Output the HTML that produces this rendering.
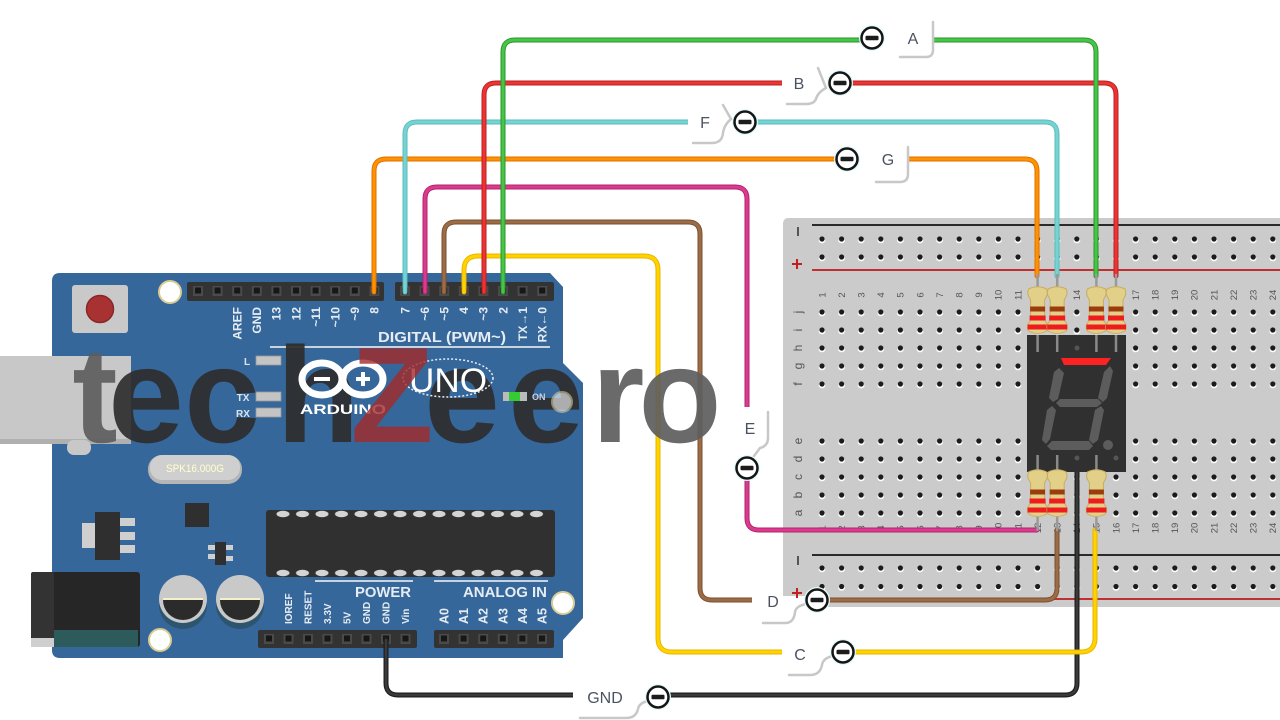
<!DOCTYPE html>
<html><head><meta charset="utf-8"><style>html,body{margin:0;padding:0;background:#fff}svg{display:block}</style></head>
<body>
<svg width="1280" height="720" viewBox="0 0 1280 720" xmlns="http://www.w3.org/2000/svg" font-family="'Liberation Sans', sans-serif">
<defs>
 <pattern id="ph1" x="812.2" y="230" width="19.6" height="18" patternUnits="userSpaceOnUse"><ellipse cx="9.8" cy="10.6" rx="3.3" ry="2.7" fill="#fff"/><circle cx="9.8" cy="9" r="2.6" fill="#1b1b1b"/></pattern>
 <pattern id="ph2" x="812.2" y="303" width="19.6" height="18" patternUnits="userSpaceOnUse"><ellipse cx="9.8" cy="10.6" rx="3.3" ry="2.7" fill="#fff"/><circle cx="9.8" cy="9" r="2.6" fill="#1b1b1b"/></pattern>
 <pattern id="ph3" x="812.2" y="432" width="19.6" height="18" patternUnits="userSpaceOnUse"><ellipse cx="9.8" cy="10.6" rx="3.3" ry="2.7" fill="#fff"/><circle cx="9.8" cy="9" r="2.6" fill="#1b1b1b"/></pattern>
 <pattern id="ph4" x="812.2" y="559" width="19.6" height="18.5" patternUnits="userSpaceOnUse"><ellipse cx="9.8" cy="10.6" rx="3.3" ry="2.7" fill="#fff"/><circle cx="9.8" cy="9" r="2.6" fill="#1b1b1b"/></pattern>
 <pattern id="bump" x="273.25" y="0" width="19.5" height="720" patternUnits="userSpaceOnUse"><ellipse cx="9.75" cy="514" rx="6.5" ry="3.2" fill="#d4d4d4"/><ellipse cx="9.75" cy="573" rx="6.5" ry="3.2" fill="#d4d4d4"/></pattern>
 <g id="pin"><rect x="-5" y="-5" width="10" height="10" fill="#4a4a4a"/><rect x="-3" y="-3.5" width="6" height="6" fill="#171717"/></g>
 <g id="res">
  <path d="M-9,2 Q-11,7 -8,11 L-7,13 V33 L-9,36 Q-11.5,40 -9,44 Q0,49 9,44 Q11.5,40 9,36 L7,33 V13 L8,11 Q11,7 9,2 Q0,-2.5 -9,2 Z" fill="#e2cf88" stroke="#c8ad60" stroke-width="1"/>
  <rect x="-7.5" y="19.5" width="15" height="5" fill="#9a3c0c"/>
  <rect x="-8" y="28.5" width="16" height="5" fill="#ee1c1c"/>
  <rect x="-10" y="37.5" width="20" height="5" fill="#ee1c1c"/>
 </g>
 <g id="mi"><circle r="13" fill="#e2fafa"/><circle r="10.5" fill="#fff" stroke="#151515" stroke-width="2.5"/><rect x="-6.5" y="-2.3" width="13" height="4.6" rx="1" fill="#1c1c1c"/></g>
</defs>

<rect width="1280" height="720" fill="#fff"/>

<!-- Breadboard -->
<rect x="783" y="218" width="520" height="389" rx="5" fill="#cbcbcb"/>
<rect x="812" y="224" width="470" height="2" fill="#2a2a2a"/>
<rect x="812" y="269" width="470" height="2" fill="#c03030"/>
<rect x="812" y="554" width="470" height="2" fill="#2a2a2a"/>
<rect x="812" y="598" width="470" height="2" fill="#c03030"/>
<rect x="812" y="230" width="470" height="36" fill="url(#ph1)"/>
<rect x="812" y="303" width="470" height="90" fill="url(#ph2)"/>
<rect x="812" y="432" width="470" height="90" fill="url(#ph3)"/>
<rect x="812" y="559" width="470" height="37" fill="url(#ph4)"/>
<rect x="797" y="227" width="2" height="9" fill="#555"/>
<rect x="792" y="263" width="10" height="2" fill="#c02020"/><rect x="796" y="259" width="2" height="10" fill="#c02020"/>
<rect x="797" y="556" width="2" height="9" fill="#555"/>
<rect x="792" y="592" width="10" height="2" fill="#c02020"/><rect x="796" y="588" width="2" height="10" fill="#c02020"/>

<g font-size="9.5" fill="#555" text-anchor="middle">
<text transform="translate(825.3,295) rotate(-90)">1</text><text transform="translate(844.9,295) rotate(-90)">2</text><text transform="translate(864.5,295) rotate(-90)">3</text><text transform="translate(884.1,295) rotate(-90)">4</text><text transform="translate(903.7,295) rotate(-90)">5</text><text transform="translate(923.3,295) rotate(-90)">6</text><text transform="translate(942.9,295) rotate(-90)">7</text><text transform="translate(962.5,295) rotate(-90)">8</text><text transform="translate(982.1,295) rotate(-90)">9</text><text transform="translate(1001.7,295) rotate(-90)">10</text><text transform="translate(1021.3,295) rotate(-90)">11</text><text transform="translate(1040.9,295) rotate(-90)">12</text><text transform="translate(1060.5,295) rotate(-90)">13</text><text transform="translate(1080.1,295) rotate(-90)">14</text><text transform="translate(1099.7,295) rotate(-90)">15</text><text transform="translate(1119.3,295) rotate(-90)">16</text><text transform="translate(1138.9,295) rotate(-90)">17</text><text transform="translate(1158.5,295) rotate(-90)">18</text><text transform="translate(1178.1,295) rotate(-90)">19</text><text transform="translate(1197.7,295) rotate(-90)">20</text><text transform="translate(1217.3,295) rotate(-90)">21</text><text transform="translate(1236.9,295) rotate(-90)">22</text><text transform="translate(1256.5,295) rotate(-90)">23</text><text transform="translate(1276.1,295) rotate(-90)">24</text>
<text transform="translate(825.3,528) rotate(-90)">1</text><text transform="translate(844.9,528) rotate(-90)">2</text><text transform="translate(864.5,528) rotate(-90)">3</text><text transform="translate(884.1,528) rotate(-90)">4</text><text transform="translate(903.7,528) rotate(-90)">5</text><text transform="translate(923.3,528) rotate(-90)">6</text><text transform="translate(942.9,528) rotate(-90)">7</text><text transform="translate(962.5,528) rotate(-90)">8</text><text transform="translate(982.1,528) rotate(-90)">9</text><text transform="translate(1001.7,528) rotate(-90)">10</text><text transform="translate(1021.3,528) rotate(-90)">11</text><text transform="translate(1040.9,528) rotate(-90)">12</text><text transform="translate(1060.5,528) rotate(-90)">13</text><text transform="translate(1080.1,528) rotate(-90)">14</text><text transform="translate(1099.7,528) rotate(-90)">15</text><text transform="translate(1119.3,528) rotate(-90)">16</text><text transform="translate(1138.9,528) rotate(-90)">17</text><text transform="translate(1158.5,528) rotate(-90)">18</text><text transform="translate(1178.1,528) rotate(-90)">19</text><text transform="translate(1197.7,528) rotate(-90)">20</text><text transform="translate(1217.3,528) rotate(-90)">21</text><text transform="translate(1236.9,528) rotate(-90)">22</text><text transform="translate(1256.5,528) rotate(-90)">23</text><text transform="translate(1276.1,528) rotate(-90)">24</text>
</g>
<g font-size="12" fill="#555" text-anchor="middle">
<text transform="translate(802,312) rotate(-90)">j</text><text transform="translate(802,330) rotate(-90)">i</text><text transform="translate(802,348) rotate(-90)">h</text><text transform="translate(802,366) rotate(-90)">g</text><text transform="translate(802,384) rotate(-90)">f</text>
<text transform="translate(802,441) rotate(-90)">e</text><text transform="translate(802,459) rotate(-90)">d</text><text transform="translate(802,477) rotate(-90)">c</text><text transform="translate(802,495) rotate(-90)">b</text><text transform="translate(802,513) rotate(-90)">a</text>
</g>

<!-- Arduino board -->
<path d="M60,273 H550 L563,287 V363 L583,383 V618 L563,640 V658 H60 Q52,658 52,650 V281 Q52,273 60,273 Z" fill="#35679b"/>
<rect x="0" y="356" width="131" height="88" fill="#c8c8c8"/>
<rect x="0" y="439" width="131" height="5" fill="#b0b0b0"/>
<rect x="67" y="440" width="24" height="15" rx="7" fill="#c8c8c8"/>
<rect x="72" y="285" width="56" height="48" rx="3" fill="#c9c9c9"/>
<circle cx="100" cy="309" r="13.5" fill="#a83232" stroke="#8a2626" stroke-width="1.5"/>
<circle cx="170" cy="292" r="11" fill="#fff" stroke="#d9cc93" stroke-width="2"/>
<circle cx="160" cy="640" r="11" fill="#fff" stroke="#d9cc93" stroke-width="2"/>
<circle cx="563" cy="603" r="11" fill="#fff" stroke="#d9cc93" stroke-width="2"/>
<rect x="187" y="282" width="197" height="19" rx="2" fill="#333"/>
<rect x="395" y="282" width="159" height="19" rx="2" fill="#333"/>
<use href="#pin" x="198" y="291"/><use href="#pin" x="217.6" y="291"/><use href="#pin" x="237.2" y="291"/><use href="#pin" x="256.8" y="291"/><use href="#pin" x="276.4" y="291"/><use href="#pin" x="296" y="291"/><use href="#pin" x="315.6" y="291"/><use href="#pin" x="335.2" y="291"/><use href="#pin" x="354.8" y="291"/><use href="#pin" x="374.4" y="291"/>
<use href="#pin" x="405" y="291"/><use href="#pin" x="424.6" y="291"/><use href="#pin" x="444.2" y="291"/><use href="#pin" x="463.8" y="291"/><use href="#pin" x="483.4" y="291"/><use href="#pin" x="503" y="291"/><use href="#pin" x="522.6" y="291"/><use href="#pin" x="542.2" y="291"/>
<g font-size="12" font-weight="bold" fill="#e6ecf2" text-anchor="end">
<text transform="translate(241.5,307) rotate(-90)">AREF</text>
<text transform="translate(261.1,307) rotate(-90)">GND</text>
<text transform="translate(280.7,307) rotate(-90)">13</text>
<text transform="translate(300.3,307) rotate(-90)">12</text>
<text transform="translate(319.9,307) rotate(-90)">~11</text>
<text transform="translate(339.5,307) rotate(-90)">~10</text>
<text transform="translate(359.1,307) rotate(-90)">~9</text>
<text transform="translate(378.7,307) rotate(-90)">8</text>
<text transform="translate(409.3,307) rotate(-90)">7</text>
<text transform="translate(428.9,307) rotate(-90)">~6</text>
<text transform="translate(448.5,307) rotate(-90)">~5</text>
<text transform="translate(468.1,307) rotate(-90)">4</text>
<text transform="translate(487.7,307) rotate(-90)">~3</text>
<text transform="translate(507.3,307) rotate(-90)">2</text>
<text transform="translate(526.9,307) rotate(-90)">TX→1</text>
<text transform="translate(546.5,307) rotate(-90)">RX←0</text>
</g>
<text x="378" y="342" font-size="15" font-weight="bold" fill="#e6ecf2" textLength="128" lengthAdjust="spacingAndGlyphs">DIGITAL (PWM~)</text>
<rect x="270" y="346" width="280" height="2" fill="#c9d3de"/>
<!-- crystal -->
<rect x="148" y="455" width="94" height="29" rx="14" fill="#b5b5b5"/>
<rect x="150" y="455" width="90" height="25" rx="12" fill="#cfcfcf"/>
<text x="195" y="472" font-size="11" fill="#ffffcc" text-anchor="middle" textLength="58" lengthAdjust="spacingAndGlyphs">SPK16.000G</text>
<!-- regulator etc -->
<rect x="82" y="523" width="14" height="25" fill="#cfcfcf"/>
<rect x="95" y="512" width="25" height="48" fill="#2f2f2f"/>
<rect x="120" y="518" width="15" height="8" fill="#cfcfcf"/><rect x="120" y="532" width="15" height="8" fill="#cfcfcf"/><rect x="120" y="545" width="15" height="8" fill="#cfcfcf"/>
<rect x="185" y="503" width="24" height="24" fill="#2f2f2f"/>
<rect x="208" y="545" width="8" height="5" fill="#cfcfcf"/><rect x="208" y="554" width="8" height="5" fill="#cfcfcf"/>
<rect x="225" y="545" width="8" height="5" fill="#cfcfcf"/><rect x="225" y="556" width="8" height="5" fill="#cfcfcf"/>
<rect x="215" y="542" width="11" height="23" fill="#2f2f2f"/>
<rect x="266" y="510" width="289" height="67" rx="3" fill="#303030"/>
<rect x="273" y="510" width="273" height="67" fill="url(#bump)"/>
<rect x="31" y="572" width="109" height="75" rx="3" fill="#262626"/>
<rect x="54" y="630" width="84" height="17" fill="#2d5a5a"/>
<rect x="31" y="638" width="23" height="9" fill="#cfcfcf"/>
<rect x="31" y="572" width="23" height="66" rx="2" fill="#333"/>
<circle cx="183" cy="605" r="24" fill="#2d5570"/>
<circle cx="183" cy="599" r="24" fill="#c9c9c9"/>
<path d="M163,600 A20,20 0 0 0 203,600 Z" fill="#2b2b2b"/>
<rect x="163" y="598" width="40" height="2" fill="#f4f0c8"/>
<circle cx="240" cy="605" r="24" fill="#2d5570"/>
<circle cx="240" cy="599" r="24" fill="#c9c9c9"/>
<path d="M220,600 A20,20 0 0 0 260,600 Z" fill="#2b2b2b"/>
<rect x="220" y="598" width="40" height="2" fill="#f4f0c8"/>
<rect x="315" y="580" width="98" height="2" fill="#c9d3de"/>
<rect x="434" y="580" width="114" height="2" fill="#c9d3de"/>
<text x="355" y="597" font-size="14.5" font-weight="bold" fill="#e6ecf2" textLength="56" lengthAdjust="spacingAndGlyphs">POWER</text>
<text x="463" y="597" font-size="14.5" font-weight="bold" fill="#e6ecf2" textLength="84" lengthAdjust="spacingAndGlyphs">ANALOG IN</text>
<g font-size="10" font-weight="bold" fill="#e6ecf2">
<text transform="translate(292.1,624) rotate(-90)">IOREF</text>
<text transform="translate(311.6,624) rotate(-90)">RESET</text>
<text transform="translate(331.1,624) rotate(-90)">3.3V</text>
<text transform="translate(350.6,624) rotate(-90)">5V</text>
<text transform="translate(370.1,624) rotate(-90)">GND</text>
<text transform="translate(389.6,624) rotate(-90)">GND</text>
<text transform="translate(409.1,624) rotate(-90)">Vin</text>
</g>
<g font-size="12.5" font-weight="bold" fill="#e6ecf2">
<text transform="translate(448.5,624) rotate(-90)">A0</text>
<text transform="translate(468.1,624) rotate(-90)">A1</text>
<text transform="translate(487.7,624) rotate(-90)">A2</text>
<text transform="translate(507.3,624) rotate(-90)">A3</text>
<text transform="translate(526.9,624) rotate(-90)">A4</text>
<text transform="translate(546.5,624) rotate(-90)">A5</text>
</g>
<rect x="258" y="630" width="159" height="18" rx="2" fill="#333"/>
<rect x="434" y="630" width="120" height="18" rx="2" fill="#333"/>
<use href="#pin" x="269" y="639"/><use href="#pin" x="288.5" y="639"/><use href="#pin" x="308" y="639"/><use href="#pin" x="327.5" y="639"/><use href="#pin" x="347" y="639"/><use href="#pin" x="366.5" y="639"/><use href="#pin" x="386" y="639"/><use href="#pin" x="405.5" y="639"/>
<use href="#pin" x="444" y="639"/><use href="#pin" x="463.6" y="639"/><use href="#pin" x="483.2" y="639"/><use href="#pin" x="502.8" y="639"/><use href="#pin" x="522.4" y="639"/><use href="#pin" x="542" y="639"/>

<!-- Wires -->
<g fill="none" stroke-linecap="round" stroke-linejoin="round">
<path d="M386,640 V683 Q386,695 398,695 H1065 Q1077,695 1077,683 V470" stroke="#1e1e1e" stroke-width="5"/>
<path d="M386,640 V683 Q386,695 398,695 H1065 Q1077,695 1077,683 V470" stroke="#3a3a3a" stroke-width="2.5"/>
<path d="M464,292 V270 Q464,256 478,256 H644 Q658,256 658,270 V638 Q658,652 672,652 H1081 Q1095,652 1095,638 V530" stroke="#e8b400" stroke-width="5"/>
<path d="M464,292 V270 Q464,256 478,256 H644 Q658,256 658,270 V638 Q658,652 672,652 H1081 Q1095,652 1095,638 V530" stroke="#ffd200" stroke-width="3"/>
<path d="M444,292 V234 Q444,222 456,222 H688 Q700,222 700,234 V588 Q700,600 712,600 H1045 Q1057,600 1057,588 V530" stroke="#7a5030" stroke-width="5"/>
<path d="M444,292 V234 Q444,222 456,222 H688 Q700,222 700,234 V588 Q700,600 712,600 H1045 Q1057,600 1057,588 V530" stroke="#9c6c46" stroke-width="3"/>
<path d="M425,292 V199 Q425,187 437,187 H735 Q747,187 747,199 V518 Q747,530 759,530 H1037" stroke="#b0246a" stroke-width="5"/>
<path d="M425,292 V199 Q425,187 437,187 H735 Q747,187 747,199 V518 Q747,530 759,530 H1037" stroke="#dc3a8e" stroke-width="3"/>
<path d="M374,292 V171 Q374,159 386,159 H1025 Q1037,159 1037,171 V276" stroke="#e07000" stroke-width="5"/>
<path d="M374,292 V171 Q374,159 386,159 H1025 Q1037,159 1037,171 V276" stroke="#ff9200" stroke-width="3"/>
<path d="M405,292 V134 Q405,122 417,122 H1045 Q1057,122 1057,134 V276" stroke="#5cbaba" stroke-width="5"/>
<path d="M405,292 V134 Q405,122 417,122 H1045 Q1057,122 1057,134 V276" stroke="#74d4d4" stroke-width="3"/>
<path d="M484,292 V95 Q484,83 496,83 H1104 Q1116,83 1116,95 V276" stroke="#b82020" stroke-width="5"/>
<path d="M484,292 V95 Q484,83 496,83 H1104 Q1116,83 1116,95 V276" stroke="#ec3434" stroke-width="3"/>
<path d="M503,292 V52 Q503,40 515,40 H1084 Q1096,40 1096,52 V276" stroke="#2a962a" stroke-width="5"/>
<path d="M503,292 V52 Q503,40 515,40 H1084 Q1096,40 1096,52 V276" stroke="#48c448" stroke-width="3"/>
</g>

<!-- Watermark (dark letters) -->
<g font-weight="bold" font-size="136" text-anchor="middle" opacity="0.92">
<text x="95" y="442" fill="#5e5e5e">t</text>
<text x="146" y="442" fill="#2e2e2e">e</text>
<text x="222" y="442" fill="#2e2e2e">c</text>
<text x="318" y="442" fill="#2e2e2e">h</text>
<text x="462" y="442" fill="#2e2e2e">e</text>
<text x="546" y="442" fill="#2e2e2e">e</text>
<text x="618" y="442" fill="#5e5e5e">r</text>
<text x="680" y="442" fill="#5e5e5e">o</text>
</g>

<!-- board details above watermark -->
<rect x="256" y="356" width="25" height="9" fill="#c4c4c4" stroke="#999" stroke-width="0.8"/>
<rect x="256" y="392" width="25" height="9" fill="#c4c4c4" stroke="#999" stroke-width="0.8"/>
<rect x="256" y="408" width="25" height="9" fill="#c4c4c4" stroke="#999" stroke-width="0.8"/>
<g font-size="10" font-weight="bold" fill="#dde3ea" text-anchor="middle">
<text x="247" y="365">L</text><text x="243" y="401">TX</text><text x="243" y="417">RX</text>
</g>
<ellipse cx="322" cy="379" rx="20" ry="16" fill="none" stroke="#fff" stroke-width="7"/>
<ellipse cx="363" cy="379" rx="20" ry="16" fill="none" stroke="#fff" stroke-width="7"/>
<rect x="314" y="377" width="16" height="4" fill="#fff"/>
<rect x="356" y="377" width="14" height="4" fill="#fff"/><rect x="361" y="372" width="4" height="14" fill="#fff"/>
<text x="300" y="414" font-size="14" font-weight="bold" fill="#fff" textLength="86" lengthAdjust="spacingAndGlyphs">ARDUINO</text>
<ellipse cx="448" cy="378" rx="45" ry="19" fill="none" stroke="#e8eef5" stroke-width="1.5" stroke-dasharray="2 2"/>
<text x="448" y="392" font-size="34" fill="#fff" text-anchor="middle" textLength="78" lengthAdjust="spacingAndGlyphs">UNO</text>
<rect x="503" y="392" width="24" height="9" fill="#bbb"/><rect x="509" y="392" width="11" height="9" fill="#33cc33"/>
<text x="532" y="400" font-size="9" font-weight="bold" fill="#ccd3dc">ON</text>
<circle cx="562" cy="402" r="10" fill="#fff" stroke="#d9cc93" stroke-width="2" opacity="0.6"/>

<!-- red Z -->
<text x="392" y="442" font-weight="bold" font-size="136" text-anchor="middle" fill="#a42a2a" opacity="0.8">Z</text>

<!-- 7-seg display -->
<rect x="1027" y="335" width="99" height="137" fill="#303030"/>
<g stroke="#8a8a8a" stroke-width="2.5">
<line x1="1037.6" y1="335" x2="1037.6" y2="352"/><line x1="1057.2" y1="335" x2="1057.2" y2="352"/><line x1="1096.4" y1="335" x2="1096.4" y2="352"/><line x1="1116" y1="335" x2="1116" y2="352"/>
<line x1="1037.6" y1="455" x2="1037.6" y2="472"/><line x1="1057.2" y1="455" x2="1057.2" y2="472"/><line x1="1096.4" y1="455" x2="1096.4" y2="472"/>
</g>
<circle cx="1077" cy="348" r="2.5" fill="#555"/><circle cx="1077" cy="458" r="2.5" fill="#555"/><circle cx="1116" cy="458" r="2.5" fill="#555"/>
<polygon points="1061,358 1111,358 1106,365 1064,365" fill="#ff2222"/>
<g fill="#5c5c5c">
<polygon points="1059,368 1064,373 1058,399 1053,402 1049,398 1054,372"/>
<polygon points="1110,366 1113,371 1107,398 1103,402 1098,398 1104,372"/>
<polygon points="1056,403 1060,399 1098,399 1102,403 1097,407 1060,407"/>
<polygon points="1052,406 1056,410 1050,439 1046,444 1042,440 1047,410"/>
<polygon points="1101,406 1104,410 1098,440 1093,444 1089,440 1095,410"/>
<polygon points="1047,446 1052,441 1089,441 1093,446 1089,450 1051,450"/>
<circle cx="1108" cy="445" r="5"/>
</g>
<g stroke="#9a9a9a" stroke-width="2.5">
<line x1="1037.6" y1="274" x2="1037.6" y2="290"/><line x1="1057.2" y1="274" x2="1057.2" y2="290"/><line x1="1096.4" y1="274" x2="1096.4" y2="290"/><line x1="1116" y1="274" x2="1116" y2="290"/>
<line x1="1037.6" y1="512" x2="1037.6" y2="531"/><line x1="1057.2" y1="512" x2="1057.2" y2="531"/><line x1="1096.4" y1="512" x2="1096.4" y2="531"/>
</g>
<use href="#res" x="1037.6" y="287"/><use href="#res" x="1057.2" y="287"/><use href="#res" x="1096.4" y="287"/><use href="#res" x="1116" y="287"/>
<use href="#res" x="1037.6" y="470"/><use href="#res" x="1057.2" y="470"/><use href="#res" x="1096.4" y="470"/>

<!-- Labels -->
<g fill="#fff">
<rect x="882" y="26" width="50" height="27"/>
<rect x="782" y="70" width="48" height="27"/>
<rect x="688" y="108" width="47" height="30"/>
<rect x="857" y="146" width="50" height="27"/>
<rect x="733" y="407" width="34" height="50"/>
<rect x="752" y="596" width="55" height="22"/>
<rect x="782" y="640" width="51" height="28"/>
<rect x="573" y="684" width="75" height="26"/>
</g>
<rect x="796" y="588" width="2" height="10" fill="#c02020"/><rect x="792" y="592" width="10" height="2" fill="#c02020"/>
<g fill="none" stroke="#c8c8c8" stroke-width="2.5" stroke-linecap="round">
<path d="M933,22 V50 Q933,57 926,57 H900"/>
<path d="M818,68 L826,88 Q818,92 816,99 Q814,104 806,104 H787"/>
<path d="M723,105 L731,119 Q724,125 723,133 Q722,143 712,143 H693"/>
<path d="M908,147 V174 Q908,182 900,182 H876"/>
<path d="M768,412 V438 Q768,446 760,448 L754,456"/>
<path d="M806,604 Q796,606 795,612 Q794,623 785,623 H763"/>
<path d="M833,656 Q823,658 822,665 Q820,675 810,675 H789"/>
<path d="M648,701 Q639,703 638,709 Q636,718 626,718 H580"/>
</g>
<use href="#mi" x="872" y="38"/>
<use href="#mi" x="840" y="83"/>
<use href="#mi" x="745" y="122"/>
<use href="#mi" x="847" y="159"/>
<use href="#mi" x="747" y="468"/>
<use href="#mi" x="817" y="600"/>
<use href="#mi" x="843" y="652"/>
<use href="#mi" x="658" y="697"/>
<g font-size="16" fill="#4b5363" text-anchor="middle">
<text x="913" y="44">A</text>
<text x="799" y="89">B</text>
<text x="705" y="128">F</text>
<text x="888" y="165">G</text>
<text x="750" y="434">E</text>
<text x="773" y="607">D</text>
<text x="800" y="660">C</text>
<text x="605" y="703">GND</text>
</g>
</svg>
</body></html>
